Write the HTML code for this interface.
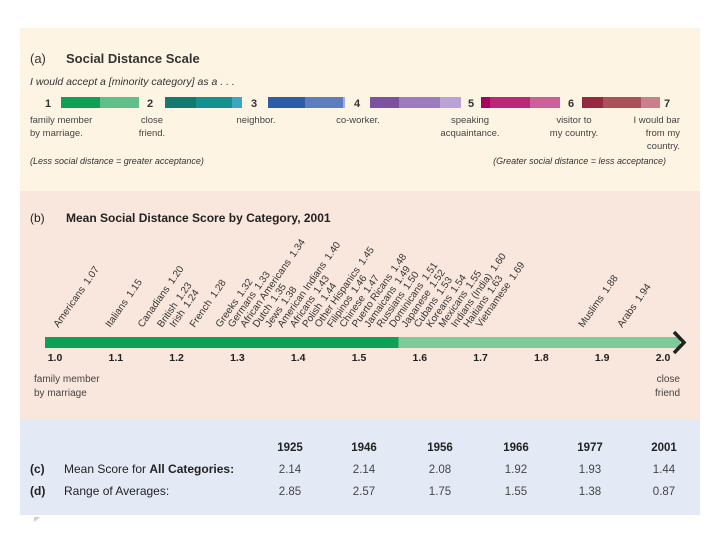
<!DOCTYPE html>
<html><head><meta charset="utf-8"><style>
body{margin:0;background:#fff;width:720px;height:540px;overflow:hidden}
svg{display:block;font-family:"Liberation Sans",sans-serif}
</style></head><body>
<svg width="720" height="540" viewBox="0 0 720 540">
<rect x="20" y="28" width="680" height="163" fill="#fdf4e3"/>
<rect x="20" y="191" width="680" height="229" fill="#f9e6dc"/>
<rect x="20" y="420" width="680" height="95" fill="#e4eaf5"/>
<g id="pa" fill="#333">
<text x="30" y="63" font-size="13">(a)<tspan x="66" font-weight="bold">Social Distance Scale</tspan></text>
<text x="30" y="85" font-size="10.5" font-style="italic">I would accept a [minority category] as a . . .</text>
<text x="30" y="164" font-size="9" font-style="italic">(Less social distance = greater acceptance)</text>
<text x="666" y="164" font-size="9" font-style="italic" text-anchor="end">(Greater social distance = less acceptance)</text>
</g>
<g id="pb" fill="#222">
<text x="30" y="222" font-size="12">(b)<tspan x="66" font-weight="bold">Mean Social Distance Score by Category, 2001</tspan></text>
<text x="34" y="382" font-size="10" fill="#444">family member<tspan x="34" dy="14">by marriage</tspan></text>
<text x="680" y="382" font-size="10" fill="#444" text-anchor="end">close<tspan x="680" dy="14">friend</tspan></text>
</g>
<g id="pc" fill="#222"></g>
<path d="M34 517 l6 0 l-6 5 z" fill="#ccd"/>
</svg>
<script>
const NS="http://www.w3.org/2000/svg";
function mk(tag,attrs,parent,txt){const e=document.createElementNS(NS,tag);for(const k in attrs)e.setAttribute(k,attrs[k]);if(txt!==undefined)e.textContent=txt;parent.appendChild(e);return e;}
const scaleNums=["1","2","3","4","5","6","7"];
const scaleNumX=[48,150,254,357,471,571,667];
const swatchColors=[["#0fa055","#5fc08a"],["#127a6e","#149090","#3aa6c0"],["#2c5ea8","#5e7cc0","#a0b0e0"],["#7c52a0","#9b7cc0","#b8a2d6"],["#a80060","#bb2878","#cc6098"],["#962840","#aa5058","#c8808a"]];
const swatchStops=[[61,100,139],[165,196,232,242],[268,305,343,345],[370,399,440,461],[481,490,530,560],[582,603,641,660]];
const scaleLabels=[["family member","by marriage."],["close","friend."],["neighbor."],["co-worker."],["speaking","acquaintance."],["visitor to","my country."],["I would bar","from my","country."]];
const pa=document.getElementById('pa');
scaleNums.forEach((n,i)=>{
  const t=mk('text',{x:scaleNumX[i],y:107,'font-size':11,'font-weight':'bold','text-anchor':'middle'},pa,n);
  
  
});
swatchColors.forEach((cols,i)=>{
  cols.forEach((c,j)=>{
    const r=mk('rect',{x:swatchStops[i][j],y:97,width:swatchStops[i][j+1]-swatchStops[i][j],height:11,fill:c},pa);
    
    
  });
});
const labX=[[30,'start'],[152,'middle'],[256,'middle'],[358,'middle'],[470,'middle'],[574,'middle'],[680,'end']];
scaleLabels.forEach((ls,i)=>{
  const t=mk('text',{x:labX[i][0],y:123,'font-size':9.5,fill:'#444','text-anchor':labX[i][1]},pa);
  
  
  ls.forEach((s,j)=>mk('tspan',{x:labX[i][0],dy:j?13:0},t,s));
});
const categories=["Americans","Italians","Canadians","British","Irish","French","Greeks","Germans","African Americans","Dutch","Jews","American Indians","Africans","Polish","Other Hispanics","Filipinos","Chinese","Puerto Ricans","Jamaicans","Russians","Dominicans","Japanese","Cubans","Koreans","Mexicans","Indians (India)","Haitians","Vietnamese","Muslims","Arabs"];
const scores=[1.07,1.15,1.20,1.23,1.24,1.28,1.32,1.33,1.34,1.35,1.38,1.40,1.43,1.44,1.45,1.46,1.47,1.48,1.49,1.50,1.51,1.52,1.53,1.54,1.55,1.60,1.63,1.69,1.88,1.94];
const tickVals=["1.0","1.1","1.2","1.3","1.4","1.5","1.6","1.7","1.8","1.9","2.0"];
const meanScore2001=1.565;
const pb=document.getElementById('pb');
const xs=v=>55+(v-1)*608;
const axStart=45, axEnd=680;
let r=mk('rect',{x:axStart,y:337,width:xs(meanScore2001)-axStart,height:11,fill:'#0ca154'},pb);


r=mk('rect',{x:xs(meanScore2001),y:337,width:axEnd-xs(meanScore2001),height:11,fill:'#7ecb9a'},pb);


r=mk('path',{d:`M${axEnd-6} 332 L${axEnd+4} 342.5 L${axEnd-6} 353`,fill:'none',stroke:'#222','stroke-width':3.5},pb);


tickVals.forEach(tv=>{
  const t=mk('text',{x:xs(parseFloat(tv)),y:361,'font-size':10.5,'font-weight':'bold','text-anchor':'middle'},pb,tv);
  
  
});
let prev=-1e9;
categories.forEach((c,i)=>{
  const v=scores[i];
  let p=xs(v)-42+40*(v-1);
  if(p<prev+12.4)p=prev+12.4;
  prev=p;
  const t=mk('text',{x:0,y:0,'font-size':10,fill:'#333',transform:`translate(${p},328) rotate(-55)`},pb);
  
  
  mk('tspan',{},t,c+'\u2002');
  mk('tspan',{},t,v.toFixed(2));
});
const years=["1925","1946","1956","1966","1977","2001"];
const meanScores=[2.14,2.14,2.08,1.92,1.93,1.44];
const rangeAvgs=[2.85,2.57,1.75,1.55,1.38,0.87];
const colX=[290,364,440,516,590,664];
const pc=document.getElementById('pc');
let t=mk('text',{x:30,y:473,'font-size':12},pc);


mk('tspan',{'font-weight':'bold'},t,'(c)');
mk('tspan',{x:64},t,'Mean Score for ');
mk('tspan',{'font-weight':'bold'},t,'All Categories:');
t=mk('text',{x:30,y:495,'font-size':12},pc);


mk('tspan',{'font-weight':'bold'},t,'(d)');
mk('tspan',{x:64},t,'Range of Averages:');
years.forEach((y,i)=>{
  let e=mk('text',{x:colX[i],y:451,'font-size':11.5,'font-weight':'bold','text-anchor':'middle'},pc,y);
  
  
  e=mk('text',{x:colX[i],y:473,'font-size':11.5,'text-anchor':'middle',fill:'#444'},pc,meanScores[i].toFixed(2));
  
  
  e=mk('text',{x:colX[i],y:495,'font-size':11.5,'text-anchor':'middle',fill:'#444'},pc,rangeAvgs[i].toFixed(2));
  
  
});
</script>
</body></html>
